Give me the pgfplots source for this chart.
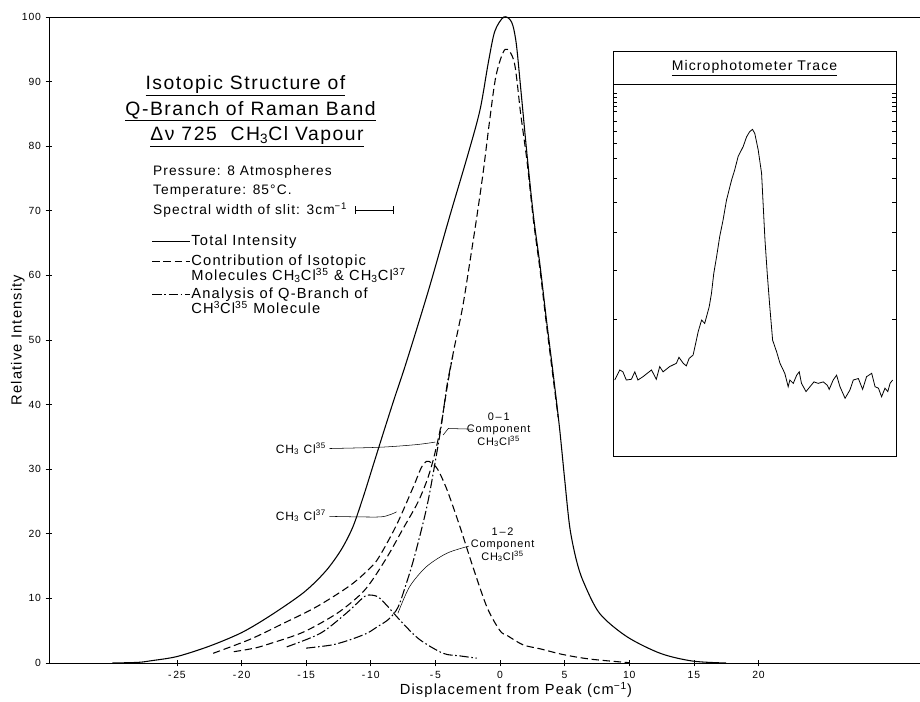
\documentclass[border=0pt]{standalone}
\usepackage{pgfplots}
\pgfplotsset{compat=1.18}
\usepackage{fontspec}
\setmainfont{Liberation Sans}[LetterSpace=8]

\begin{document}
\begin{tikzpicture}[
  sol/.style={line width=0.8pt},
  dsh/.style={line width=0.8pt, dash pattern=on 5.5pt off 2.8pt},
  dd/.style={line width=0.8pt, dash pattern=on 7pt off 2pt on 1.2pt off 2pt}]
\begin{axis}[
  at={(0,0)}, anchor=south west,
  scale only axis, width=653.25pt, height=484.5pt,
  xmin=-34.9, xmax=32.5, ymin=0, ymax=100,
  axis x line=box, axis y line=left,
  axis line style={-, line width=0.6pt},
  xtick={-25,-20,...,20},
  xticklabels={-\,25,-\,20,-\,15,-\,10,-\,5,0,5,10,15,20},
  ytick={0,10,...,100},
  xtick pos=bottom, ytick pos=left,
  tick align=center,
  major tick length=5pt,
  tick style={black, line width=0.5pt},
  /pgf/number format/assume math mode=true,
  tick label style={font=\fontsize{7.8}{9}\selectfont},
  xlabel={Displacement from Peak (cm\textsuperscript{−1})},
  ylabel={Relative Intensity},
  xlabel style={at={(axis description cs:0.536,-0.0418)}, anchor=center, font=\fontsize{11}{13}\selectfont},
  ylabel style={at={(axis description cs:-0.0357,0.5)}, anchor=center, font=\fontsize{11}{13}\selectfont},
  clip=false,
]
% Total intensity
\addplot[sol, smooth, tension=0.5] coordinates {
(-30,0) (-28,0.1) (-27,0.35) (-25,1.0) (-22.5,2.6) (-20,4.7) (-17.8,7.3)
(-15.2,10.9) (-13.5,14.2) (-12.3,17.5) (-11.4,21.0) (-10.6,25.6) (-9.8,30.7)
(-9.0,35.8) (-8.2,40.8) (-7.4,45.6) (-6.4,52) (-5.4,58.6) (-3.9,69.1)
(-2.5,78.6) (-1.55,85.6) (-0.9,93.0) (-0.4,97.8) (0.3,100) (0.9,99.2)
(1.25,96.0) (1.6,89) (2.1,78.5) (2.6,69) (3.1,61.5) (3.6,53) (4.1,45)
(4.6,36.5) (5.0,28.5) (5.4,21) (5.9,16) (6.45,12.6) (7.7,7.7) (9.8,4.1)
(12.4,1.5) (14.9,0.3) (17.5,0)};
% CH3Cl35 contribution
\addplot[dsh, smooth, tension=0.5] coordinates {
(-20.6,1.75) (-19,2.3) (-17.8,3.0) (-15.2,4.8) (-12.6,7.7) (-10.8,10.6)
(-10,12.5) (-9.3,14.6) (-8.5,17.2) (-7.5,20.8) (-6.4,24.7) (-5.7,28.0)
(-5.2,31.2) (-4.6,36.4) (-4.1,42.6) (-3.6,48.2) (-2.9,55) (-2.3,62.5)
(-1.8,69) (-1.3,76) (-0.8,84) (-0.3,91) (0.4,95) (1.1,93) (1.6,85)
(2.1,77.5) (2.6,68.3) (3.1,60.8) (3.6,52.3) (4.1,44.3) (4.5,38)};
% CH3Cl37 contribution
\addplot[dsh, smooth, tension=0.5] coordinates {
(-22.2,1.5) (-19.3,3.7) (-16.8,6.1) (-14.2,8.7) (-11.6,12.0) (-10,14.8)
(-9.3,16.6) (-8.0,21.4) (-6.7,27.3) (-6.1,30.2) (-5.7,31.2) (-5.3,31.0)
(-4.8,29.9) (-4.1,26.8) (-3.1,21.1) (-2.1,14.9) (-1.0,8.6) (0,5.0)
(0.6,4.2) (1.8,2.8) (3.1,2.2) (4.9,1.3) (7,0.6) (10,0.05)};
% 0-1 component
\addplot[dd, smooth, tension=0.5] coordinates {
(-15,2.3) (-13,2.8) (-11.6,3.6) (-10.3,4.6) (-9.5,5.6) (-8.6,6.8)
(-7.9,8.6) (-7.3,12) (-6.7,15.9) (-5.9,22.1) (-5.4,26.8) (-4.6,36.0)
(-4.1,43.0) (-3.65,47.6)};
% 1-2 component
\addplot[dd, smooth, tension=0.5] coordinates {
(-16.5,2.5) (-13.9,4.6) (-11.9,7.7) (-10.8,9.75) (-10.3,10.5) (-9.5,10.3)
(-8.8,9.0) (-7.5,6.1) (-6.2,3.6) (-4.4,1.5) (-3.1,1.1) (-1.8,0.75)};

% leader lines
\addplot[line width=0.4pt, smooth] coordinates {(-13.2,33.2) (-9.3,33.4) (-6.5,33.8) (-5.0,34.2)};
\addplot[line width=0.4pt, smooth] coordinates {(-13.2,22.7) (-9.5,22.6) (-8.6,22.9) (-8.0,23.4)};
\addplot[line width=0.4pt] coordinates {(-2.1,36.2) (-4.0,36.3) (-4.4,35.3)};
\addplot[line width=0.4pt, smooth] coordinates {(-2.4,18.1) (-4.1,17.0) (-5.7,14.9) (-7.0,11.8) (-7.9,7.7)};

% curve labels
\node[anchor=east, font=\fontsize{9}{11}\selectfont] at (axis cs:-13.1,33.2) {CH\textsubscript{3} Cl\textsuperscript{35}};
\node[anchor=east, font=\fontsize{9}{11}\selectfont] at (axis cs:-13.1,22.8) {CH\textsubscript{3} Cl\textsuperscript{37}};
\node[align=center, font=\fontsize{8.2}{9.4}\selectfont] at (axis cs:-0.1,36.1) {0\,–\,1\\Component\\CH\textsubscript{3}Cl\textsuperscript{35}};
\node[align=center, font=\fontsize{8.2}{9.4}\selectfont] at (axis cs:0.2,18.3) {1\,–\,2\\Component\\CH\textsubscript{3}Cl\textsuperscript{35}};

% title
\node[font=\fontsize{14.5}{17}\selectfont] at (axis cs:-19.7,89.3) {\underline{Isotopic Structure of}};
\node[font=\fontsize{14.5}{17}\selectfont] at (axis cs:-19.3,85.4) {\underline{Q-Branch of Raman Band}};
\node[font=\fontsize{14.5}{17}\selectfont] at (axis cs:-18.8,81.4) {\underline{Δν 725\ \ CH\textsubscript{3}Cl Vapour}};

% conditions
\node[anchor=west, font=\fontsize{10.3}{12}\selectfont] at (axis cs:-27.2,76.0) {Pressure: 8 Atmospheres};
\node[anchor=west, font=\fontsize{10.3}{12}\selectfont] at (axis cs:-27.2,73.1) {Temperature: 85°C.};
\node[anchor=west, font=\fontsize{10.3}{12}\selectfont] (sp) at (axis cs:-27.2,70.1) {Spectral width of slit: 3cm\textsuperscript{−1}};
\draw[|-|, line width=0.5pt] ([xshift=2pt]sp.east) -- ++(axis direction cs:3,0);

% legend
\draw[sol] (axis cs:-26.9,65.2) -- (axis cs:-24.0,65.2);
\node[anchor=west, font=\fontsize{11}{12}\selectfont, inner sep=1pt] at (axis cs:-24.0,65.2) {Total Intensity};
\draw[dsh] (axis cs:-26.9,62.1) -- (axis cs:-24.0,62.1);
\node[anchor=west, font=\fontsize{11}{12}\selectfont, inner sep=1pt] at (axis cs:-24.0,62.1) {Contribution of Isotopic};
\node[anchor=west, font=\fontsize{11}{12}\selectfont, inner sep=1pt] at (axis cs:-24.0,60.0) {Molecules CH\textsubscript{3}Cl\textsuperscript{35} \& CH\textsubscript{3}Cl\textsuperscript{37}};
\draw[dd] (axis cs:-26.9,57.0) -- (axis cs:-24.0,57.0);
\node[anchor=west, font=\fontsize{11}{12}\selectfont, inner sep=1pt] at (axis cs:-24.0,57.0) {Analysis of Q-Branch of};
\node[anchor=west, font=\fontsize{11}{12}\selectfont, inner sep=1pt] at (axis cs:-24.0,55.0) {CH\textsuperscript{3}Cl\textsuperscript{35} Molecule};
\end{axis}

% inset: microphotometer trace
\begin{axis}[
  at={(423pt,154.7pt)}, anchor=south west,
  scale only axis, width=212.25pt, height=279.3pt,
  xmin=0, xmax=100, ymin=0, ymax=100,
  xtick=\empty,
  ytick={37.0,50.0,60.3,68.3,74.9,80.1,84.2,87.3,90.0,92.7,94.0,95.3,96.5,97.6},
  yticklabels={},
  tick align=inside, major tick length=3pt,
  tick style={black, line width=0.4pt},
  axis line style={line width=0.6pt},
  clip=false,
]
\addplot[line width=0.6pt] coordinates {
(0.6,20.6) (2.4,23.3) (3.5,22.8) (4.7,20.6) (6.5,20.8) (7.7,22.8) (8.8,20.6)
(10.6,21.5) (13.6,23.3) (15.3,20.8) (16.5,24.2) (17.7,22.8) (20.0,24.2)
(22.4,25.1) (23.3,26.7) (24.8,25.1) (25.9,24.4) (26.9,26.4) (28.3,27.3)
(29.2,30.4) (30.1,33.6) (31.3,36.7) (32.4,35.8) (34.0,40.3) (34.8,43.9)
(35.6,49.2) (36.6,53.7) (37.7,59.1) (38.9,63.6) (40.1,68.9) (41.9,74.3)
(43.0,77.0) (44.2,80.6) (46.0,83.3) (47.2,85.9) (48.3,87.3) (49.3,87.9)
(50.1,86.8) (51.3,82.4) (52.5,76.1) (53.1,67.1) (53.7,58.2) (54.5,49.2)
(55.4,40.3) (56.4,31.3) (57.8,28.2) (59.0,25.1) (60.7,22.4) (61.9,18.8)
(62.5,20.6) (63.7,19.7) (64.9,21.9) (65.8,22.8) (66.6,19.7) (68.2,17.5)
(69.6,18.8) (71.0,20.1) (72.5,19.7) (74.3,20.1) (75.7,19.2) (76.4,18.1)
(77.8,20.6) (79.0,21.9) (80.2,18.8) (82.0,15.7) (83.7,17.9) (84.9,20.6)
(86.7,21.0) (88.2,18.1) (89.6,21.5) (91.4,22.4) (92.6,18.8) (93.8,18.4)
(94.9,16.1) (96.1,18.4) (97.1,17.5) (97.9,19.7) (98.8,20.6)};
\draw[line width=0.6pt] (rel axis cs:0,1) rectangle (rel axis cs:1,1.0875);
\node[font=\fontsize{10.5}{12}\selectfont] at (rel axis cs:0.5,1.044) {\underline{Microphotometer Trace}};
\end{axis}

\pgfresetboundingbox
\path[use as bounding box] (-36.75pt,-28.5pt) rectangle (653.25pt,497.25pt);
\end{tikzpicture}
\end{document}
